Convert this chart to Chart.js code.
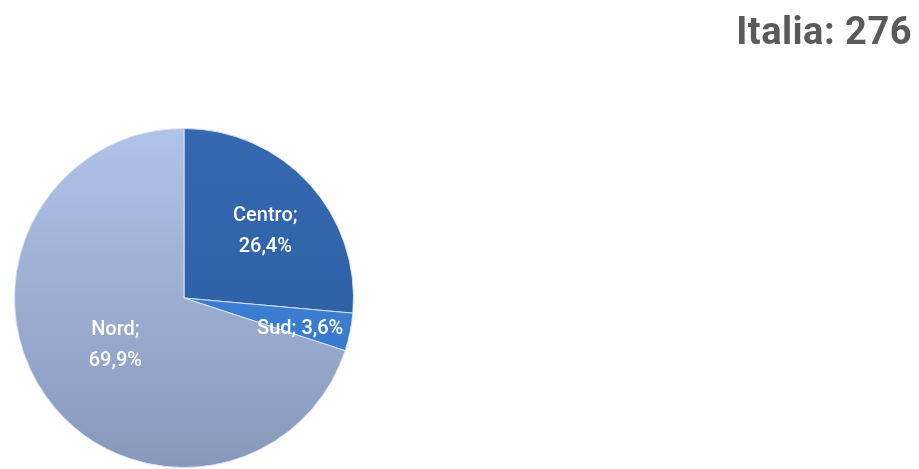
<!DOCTYPE html>
<html lang="it">
<head>
<meta charset="UTF-8">
<title>Italia: 276</title>
<style>
  html, body { margin: 0; padding: 0; background: #fff; }
  #wrap { position: relative; width: 919px; height: 469px; }
  #titolo {
    position: absolute; right: 7px; top: 9px;
    font-family: Roboto, "Open Sans", sans-serif; font-weight: 700;
    font-size: 38px; color: #5a5a5a; letter-spacing: 0.5px;
  }
</style>
</head>
<body>
<div id="wrap">
  <canvas id="torta" width="919" height="469"></canvas>
  <div id="titolo">Italia: 276</div>
</div>
<script src="https://cdn.jsdelivr.net/npm/chart.js"></script>
<script>
const categorie = ['Centro', 'Sud', 'Nord'];
const percentuali = [26.4, 3.6, 69.9];
const colori = ['#2e62a6', '#3a7fd4', '#a3b6da'];

// where each label sits: fraction of the radius, plus a small vertical nudge
const posEtichette = { Centro: 0.65, Sud: 0.7, Nord: 0.5 };
const spostaY = { Centro: 8, Sud: 7, Nord: -2 };

function fmt(v) { return v.toFixed(1).replace('.', ','); }

const etichette = {
  id: 'etichette',
  afterDatasetsDraw(chart) {
    const ctx = chart.ctx;
    const meta = chart.getDatasetMeta(0);
    ctx.save();
    ctx.fillStyle = '#fff';
    ctx.font = '500 20px Roboto, "Open Sans", sans-serif';
    ctx.textAlign = 'center';
    ctx.textBaseline = 'middle';
    meta.data.forEach((arc, i) => {
      const nome = categorie[i];
      const mid = (arc.startAngle + arc.endAngle) / 2;
      const r = arc.outerRadius * posEtichette[nome];
      const x = arc.x + Math.cos(mid) * r;
      const y = arc.y + Math.sin(mid) * r + spostaY[nome];
      if (nome === 'Sud') {
        ctx.fillText(nome + '; ' + fmt(percentuali[i]) + '%', x, y);
      } else {
        ctx.fillText(nome + ';', x, y - 15.5);
        ctx.fillText(fmt(percentuali[i]) + '%', x, y + 15.5);
      }
    });
    ctx.restore();
  }
};

function riempimento(c) {
  const chart = c.chart;
  const i = c.dataIndex;
  if (!chart.chartArea) return colori[i];
  const { top, bottom } = chart.chartArea;
  const g = chart.ctx.createLinearGradient(0, top, 0, bottom);
  if (i === 2) {
    g.addColorStop(0, '#afc3e8');
    g.addColorStop(1, '#8798bb');
  } else if (i === 0) {
    g.addColorStop(0, '#3569b0');
    g.addColorStop(1, '#2a5b9c');
  } else {
    g.addColorStop(0, '#4a8ee0');
    g.addColorStop(1, '#2f6fc4');
  }
  return g;
}

new Chart(document.getElementById('torta'), {
  type: 'pie',
  data: {
    labels: categorie,
    datasets: [{
      data: percentuali,
      backgroundColor: riempimento,
      borderColor: 'rgba(220,230,245,0.9)',
      borderWidth: 1
    }]
  },
  options: {
    responsive: false,
    animation: false,
    layout: { padding: { left: 14, right: 565, top: 128, bottom: 1 } },
    plugins: {
      legend: { display: false },
      tooltip: { enabled: false }
    }
  },
  plugins: [etichette]
});
</script>
</body>
</html>
